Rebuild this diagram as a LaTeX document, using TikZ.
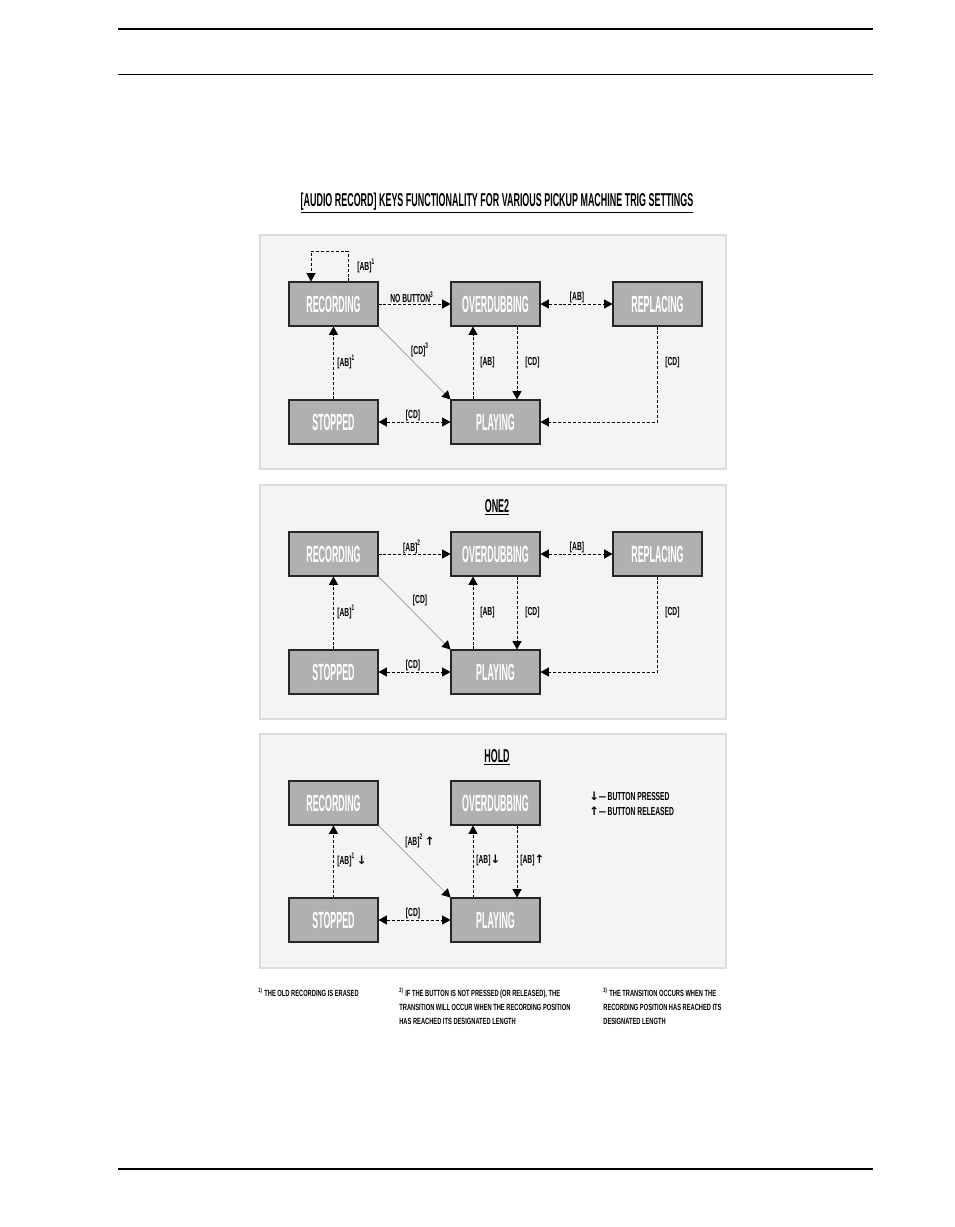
\documentclass[tikz,border=0pt]{standalone}
\usepackage{fontspec}
\usepackage{xcolor}
\usetikzlibrary{arrows.meta}
\newfontfamily\statefont[FakeStretch=0.38]{Liberation Sans}
\newfontfamily\labelfont[FakeStretch=0.58]{Liberation Sans}
\newfontfamily\titlefont[FakeStretch=0.48]{Liberation Sans}
\newfontfamily\notefont[FakeStretch=0.64]{Liberation Sans}
\newfontfamily\symfont{DejaVu Sans}
\definecolor{panelbg}{HTML}{F4F4F4}
\definecolor{panelrule}{HTML}{DCDCDC}
\definecolor{statefill}{HTML}{B0B0B0}
\tikzset{state/.style={draw=black!85, line width=0.6pt, fill=statefill,
   minimum width=1.78cm, minimum height=0.88cm, inner sep=0pt, text=white,
   font=\statefont\bfseries\fontsize{13.3}{14}\selectfont},
 lbl/.style={inner sep=0pt, font=\labelfont\bfseries\fontsize{6.6}{7}\selectfont},
 ptitle/.style={inner sep=0pt, font=\titlefont\bfseries\fontsize{10.6}{12}\selectfont},
 note/.style={inner sep=0pt, anchor=north west, align=left,
   font=\notefont\bfseries\fontsize{5.1}{7.9}\selectfont},
 trans/.style={dash pattern=on 1.7pt off 1.1pt, line width=0.55pt,
   -{Triangle[length=4.8pt,width=5.2pt]}},
 both/.style={trans, {Triangle[length=4.8pt,width=5.2pt]}-{Triangle[length=4.8pt,width=5.2pt]}},
 direct/.style={draw=gray!80, line width=0.4pt, -{Triangle[length=4.8pt,width=5.2pt,color=black]}},
 panel/.style={fill=panelbg, draw=panelrule, line width=0.6pt},
 }

\begin{document}
\begin{tikzpicture}[x=0.02cm, y=-0.02cm]
    \useasboundingbox (0,0) rectangle (954,1227);
    % page rules
    \draw[line width=1.2pt] (118,29) -- (873,29);
    \draw[line width=0.5pt] (118,74) -- (873,74);
    \draw[line width=1.2pt] (118,1169) -- (873,1169);

    \node[ptitle, anchor=base] (title) at (497,206)
        {\underline{[AUDIO RECORD] KEYS FUNCTIONALITY FOR VARIOUS PICKUP MACHINE TRIG SETTINGS}};

    \foreach \y in {235, 485, 734} {
        \draw[panel] (260,\y) rectangle ++(466,234);
    }
    \node[ptitle, anchor=base] (one2) at (497,512) {\underline{ONE2}};
    \node[ptitle, anchor=base] (hold) at (497,762) {\underline{HOLD}};

    % first two panels share their states and most transitions
    \foreach \y/\toplbl/\diaglbl [count=\i] in {304/{NO BUTTON\textsuperscript{3}}/{[CD]\textsuperscript{3}},
                                               554/{[AB]\textsuperscript{2}}/{[CD]}} {
        \node[state] (rec\i) at (333.5,\y) {RECORDING};
        \node[state] (ovd\i) at (495.5,\y) {OVERDUBBING};
        \node[state] (rep\i) at (657.5,\y) {REPLACING};
        \node[state] (stp\i) at (333.5,\y+118) {STOPPED};
        \node[state] (ply\i) at (495.5,\y+118) {PLAYING};
        \draw[trans] (rec\i) -- (ovd\i);
        \draw[both] (ovd\i) -- (rep\i);
        \draw[both] (stp\i) -- (ply\i);
        \draw[trans] (stp\i) -- (rec\i);
        \draw[trans] ([xshift=-0.45cm]ply\i.north) -- ([xshift=-0.45cm]ovd\i.south);
        \draw[trans] ([xshift=0.43cm]ovd\i.south) -- ([xshift=0.43cm]ply\i.north);
        \draw[trans] (rep\i) |- (ply\i);
        \draw[direct] (rec\i.south east) -- (ply\i.north west);
        \node[lbl] (top\i) at (412,\y-7) {\toplbl};
        \node[lbl] (rab\i) at (577,\y-7) {[AB]};
        \node[lbl] (diag\i) at (420,\y+46) {\diaglbl};
        \node[lbl, anchor=west] (sab\i) at (337,\y+58) {[AB]\textsuperscript{1}};
        \node[lbl, anchor=west] (pab\i) at (480,\y+58) {[AB]};
        \node[lbl, anchor=west] (ocd\i) at (525,\y+58) {[CD]};
        \node[lbl, anchor=west] (rcd\i) at (665,\y+58) {[CD]};
        \node[lbl] (scd\i) at (413,\y+111) {[CD]};
    }
    % restart loop, first panel only
    \draw[trans] ([xshift=0.29cm]rec1.north) -- ++(0,-30) -| ([xshift=-0.45cm]rec1.north);
    \node[lbl, anchor=west] (loop1) at (357,266) {[AB]\textsuperscript{1}};

    % hold
    \node[state] (rec3) at (333.5,803) {RECORDING};
    \node[state] (ovd3) at (495.5,803) {OVERDUBBING};
    \node[state] (stp3) at (333.5,920) {STOPPED};
    \node[state] (ply3) at (495.5,920) {PLAYING};
    \draw[trans] (stp3) -- (rec3);
    \draw[both] (stp3) -- (ply3);
    \draw[trans] ([xshift=-0.45cm]ply3.north) -- ([xshift=-0.45cm]ovd3.south);
    \draw[trans] ([xshift=0.43cm]ovd3.south) -- ([xshift=0.43cm]ply3.north);
    \draw[direct] (rec3.south east) -- (ply3.north west);
    \node[lbl, anchor=west] (sab3) at (337,860) {[AB]\textsuperscript{1}\,{\symfont ↓}};
    \node[lbl] (diag3) at (420,841) {[AB]\textsuperscript{2}\,{\symfont ↑}};
    \node[lbl, anchor=west] (pab3) at (476,860) {[AB]{\symfont ↓}};
    \node[lbl, anchor=west] (oab3) at (520,860) {[AB]{\symfont ↑}};
    \node[lbl] (scd3) at (413,913) {[CD]};
    \node[lbl, anchor=west] (pressed) at (589,796) {{\symfont ↓}— BUTTON PRESSED};
    \node[lbl, anchor=west] (released) at (589,811) {{\symfont ↑}— BUTTON RELEASED};

    % footnotes
    \node[note] (fn1) at (258,988) {\textsuperscript{1)} THE OLD RECORDING IS ERASED};
    \node[note] (fn2) at (399,988) {\textsuperscript{2)} IF THE BUTTON IS NOT PRESSED (OR RELEASED), THE\\
        TRANSITION WILL OCCUR WHEN THE RECORDING POSITION\\ HAS REACHED ITS DESIGNATED LENGTH};
    \node[note] (fn3) at (603,988) {\textsuperscript{3)} THE TRANSITION OCCURS WHEN THE\\
        RECORDING POSITION HAS REACHED ITS\\ DESIGNATED LENGTH};
\end{tikzpicture}
\end{document}
